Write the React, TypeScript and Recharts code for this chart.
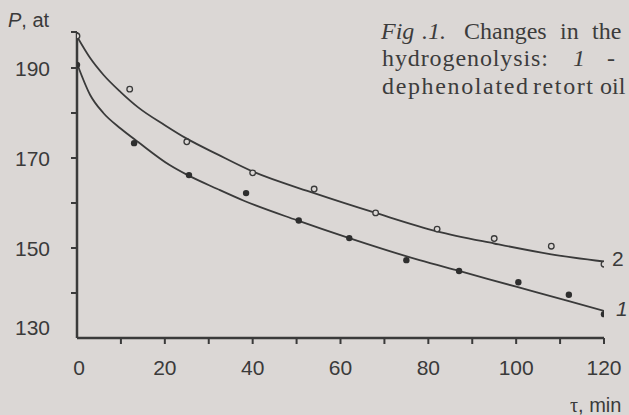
import React from 'react';
import { ComposedChart, Line, Scatter, XAxis, YAxis } from 'recharts';

// fitted curve 1 (lower)
const fit1Time = [0, 3, 6, 10, 14, 21, 25, 32, 38, 50, 62, 78, 87, 100, 112, 120];
const fit1P = [191.0, 184.0, 180.0, 176.5, 173.5, 168.5, 166.3, 163.1, 160.5, 156.2, 152.2, 147.3, 144.9, 141.4, 138.2, 136.0];
// fitted curve 2 (upper)
const fit2Time = [0, 3, 6, 10, 14, 20, 25, 32, 40, 54, 68, 82, 95, 108, 120];
const fit2P = [197.0, 192.2, 188.5, 184.6, 181.2, 177.3, 174.3, 170.8, 167.0, 162.2, 157.8, 153.7, 151.0, 148.6, 147.0];
// measured points, series 1 (filled)
const s1Time = [0, 13, 25.5, 38.5, 50.5, 62, 75, 87, 100.5, 112, 120];
const s1P = [190.7, 173.3, 166.2, 162.2, 156.1, 152.2, 147.3, 144.9, 142.4, 139.6, 135.3];
// measured points, series 2 (open)
const s2Time = [0, 12, 25, 40, 54, 68, 82, 95, 108, 120];
const s2P = [197.1, 185.3, 173.6, 166.7, 163.1, 157.8, 154.2, 152.1, 150.4, 146.4];

const xTicks = [0, 10, 20, 30, 40, 50, 60, 70, 80, 90, 100, 110, 120];
const xLabelTicks = [0, 20, 40, 60, 80, 100, 120];
const yTicks = [130, 140, 150, 160, 170, 180, 190, 198];
const yLabelTicks = [130, 150, 170, 190];

const toRows = (ts: number[], ps: number[]) => ts.map((t, i) => ({ t, p: ps[i] }));
const fit1 = toRows(fit1Time, fit1P);
const fit2 = toRows(fit2Time, fit2P);
const pts1 = toRows(s1Time, s1P);
const pts2 = toRows(s2Time, s2P);

const INK = '#3a3a3a';
const BG = '#dbd7d5';
const SANS = 'Liberation Sans, Arial, sans-serif';
const SERIF = 'Liberation Serif, Times New Roman, serif';

const XTick = (props: any) => {
  const { x, y, payload } = props;
  const v = payload.value;
  return (
    <g>
      {v !== 0 && <line x1={x} x2={x} y1={y} y2={y + 6} stroke={INK} strokeWidth={2} />}
      {xLabelTicks.includes(v) && (
        <text x={x + (v === 0 ? 2 : 0)} y={y + 37} textAnchor="middle" fontSize={21} fontFamily={SANS} fill={INK}>
          {v}
        </text>
      )}
    </g>
  );
};

const YTick = (props: any) => {
  const { x, y, payload } = props;
  const v = payload.value;
  return (
    <g>
      {v !== 130 && <line x1={x - 6} x2={x} y1={y} y2={y} stroke={INK} strokeWidth={2} />}
      {yLabelTicks.includes(v) && (
        <text x={x - 27} y={y + (v === 130 ? -10 : 1)} dy="0.35em" textAnchor="end" fontSize={21} fontFamily={SANS} fill={INK}>
          {v}
        </text>
      )}
    </g>
  );
};

const OpenDot = (props: any) => (
  <circle cx={props.cx} cy={props.cy} r={2.8} fill={BG} stroke={INK} strokeWidth={1.3} />
);
const FilledDot = (props: any) => <circle cx={props.cx} cy={props.cy} r={3.2} fill="#2e2e2e" />;

const Word = ({ x, y, w, italic, children }: any) => (
  <text x={x} y={y} textLength={w} lengthAdjust={w ? 'spacing' : undefined} fontStyle={italic ? 'italic' : 'normal'}>
    {children}
  </text>
);

export default function App() {
  return (
    <div style={{ position: 'absolute', left: 0, top: 0, width: 629, height: 415, background: BG, overflow: 'hidden' }}>
      <ComposedChart width={629} height={415} margin={{ top: 32, right: 25, bottom: 0, left: 0 }}>
        <XAxis
          dataKey="t"
          type="number"
          domain={[0, 120]}
          ticks={xTicks}
          interval={0}
          allowDataOverflow
          height={77}
          tickSize={0}
          tickMargin={0}
          tickLine={false}
          axisLine={{ stroke: INK, strokeWidth: 2.5 }}
          tick={XTick}
        />
        <YAxis
          dataKey="p"
          type="number"
          domain={[130, 198]}
          ticks={yTicks}
          interval={0}
          allowDataOverflow
          width={77}
          tickSize={0}
          tickMargin={0}
          tickLine={false}
          axisLine={{ stroke: INK, strokeWidth: 2.5 }}
          tick={YTick}
        />
        <Line data={fit1} dataKey="p" type="monotone" stroke={INK} strokeWidth={1.8} dot={false} isAnimationActive={false} />
        <Line data={fit2} dataKey="p" type="monotone" stroke={INK} strokeWidth={1.8} dot={false} isAnimationActive={false} />
        <Scatter data={pts1} dataKey="p" shape={FilledDot} isAnimationActive={false} />
        <Scatter data={pts2} dataKey="p" shape={OpenDot} isAnimationActive={false} />
      </ComposedChart>
      <svg width={629} height={415} style={{ position: 'absolute', left: 0, top: 0, pointerEvents: 'none' }}>
        <text x={8} y={27} fontSize={20} fontFamily={SANS} fill={INK}>
          <tspan fontStyle="italic">P</tspan>, at
        </text>
        <text x={570} y={412} fontSize={20} fill={INK}>
          <tspan fontFamily={SERIF}>τ</tspan>
          <tspan fontFamily={SANS}>, min</tspan>
        </text>
        <text x={612} y={266} fontSize={21} fontFamily={SANS} fill={INK}>2</text>
        <text x={616} y={316} fontSize={21} fontFamily={SANS} fontStyle="italic" fill={INK}>1</text>
        <g fontFamily={SERIF} fontSize={24} fill="#3c3c3c">
          <Word x={381} y={39} italic>Fig</Word>
          <Word x={422} y={39} italic>.1.</Word>
          <Word x={464} y={39}>Changes</Word>
          <Word x={560} y={39}>in</Word>
          <Word x={592} y={39}>the</Word>
          <Word x={382} y={66} w={166}>hydrogenolysis:</Word>
          <Word x={573} y={66} italic>1</Word>
          <Word x={607} y={66}>-</Word>
          <Word x={382} y={94} w={146}>dephenolated</Word>
          <Word x={533} y={94} w={60}>retort</Word>
          <Word x={600} y={94}>oil</Word>
        </g>
      </svg>
    </div>
  );
}
